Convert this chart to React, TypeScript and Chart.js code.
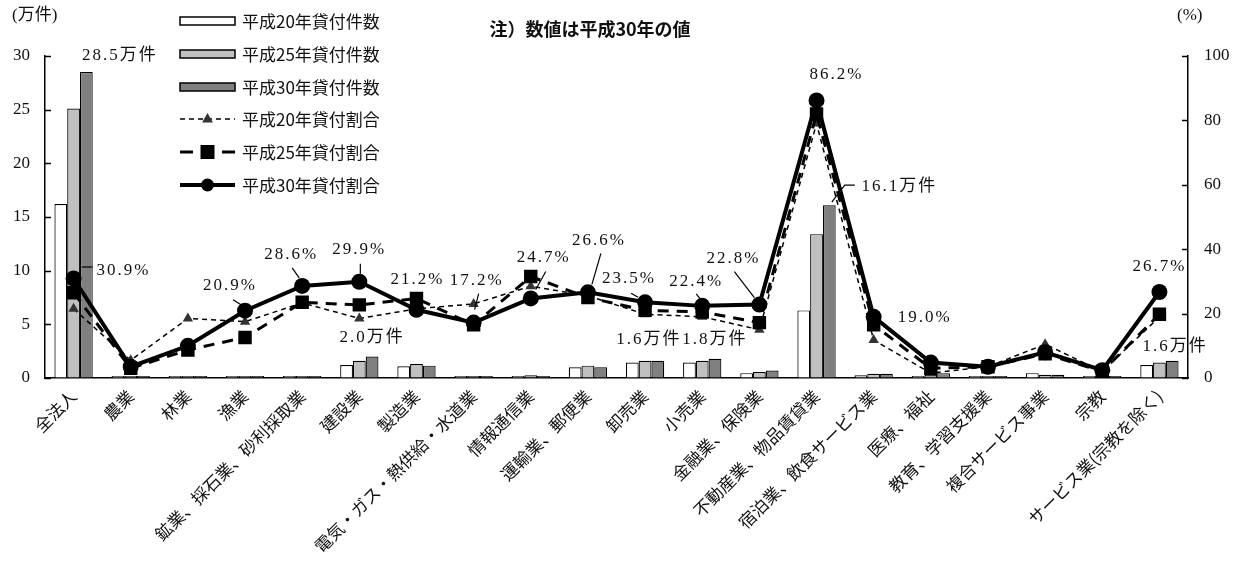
import React, { useEffect, useRef } from 'react';
import { Chart, registerables } from 'chart.js';

Chart.register(...registerables);

const categories = [
  '全法人', '農業', '林業', '漁業', '鉱業、採石業、砂利採取業', '建設業', '製造業',
  '電気・ガス・熱供給・水道業', '情報通信業', '運輸業、郵便業', '卸売業', '小売業',
  '金融業、保険業', '不動産業、物品賃貸業', '宿泊業、飲食サービス業', '医療、福祉',
  '教育、学習支援業', '複合サービス事業', '宗教', 'サービス業(宗教を除く)',
];

// 貸付件数 (万件)
const loansH20 = [16.2, 0.1, 0.1, 0.1, 0.1, 1.2, 1.1, 0.05, 0.05, 1.0, 1.45, 1.45, 0.45, 6.3, 0.25, 0.05, 0.05, 0.45, 0.05, 1.2];
const loansH25 = [25.1, 0.1, 0.1, 0.1, 0.1, 1.6, 1.3, 0.05, 0.25, 1.15, 1.6, 1.6, 0.55, 13.4, 0.4, 0.3, 0.05, 0.3, 0.05, 1.45];
const loansH30 = [28.5, 0.1, 0.1, 0.1, 0.1, 2.0, 1.15, 0.05, 0.1, 1.0, 1.6, 1.8, 0.7, 16.1, 0.4, 0.45, 0.05, 0.3, 0.05, 1.6];

// 貸付割合 (%)
const rateH20 = [21.5, 5.5, 18.5, 17.5, 23.3, 18.5, 21.5, 23.0, 28.5, 25.5, 19.8, 19.0, 15.0, 79.0, 11.8, 1.5, 3.5, 10.5, 2.0, 19.0];
const rateH25 = [26.5, 3.0, 8.7, 12.6, 23.5, 22.7, 24.7, 16.5, 31.5, 25.0, 21.0, 20.5, 17.2, 82.0, 16.5, 3.0, 3.5, 7.5, 2.0, 19.8];
const rateH30 = [30.9, 3.5, 10.0, 20.9, 28.6, 29.9, 21.2, 17.2, 24.7, 26.6, 23.5, 22.4, 22.8, 86.2, 19.0, 4.8, 3.5, 8.0, 2.4, 26.7];

const leftMax = 30;
const leftStep = 5;
const rightMax = 100;
const rightStep = 20;

const legendLabels = [
  '平成20年貸付件数', '平成25年貸付件数', '平成30年貸付件数',
  '平成20年貸付割合', '平成25年貸付割合', '平成30年貸付割合',
];
const titleText = '注）数値は平成30年の値';
const leftUnit = '(万件)';
const rightUnit = '(%)';
const countUnit = '万件';

// indices of H30 values that carry a label
const rateLabelIdx = [0, 3, 4, 5, 6, 7, 8, 9, 10, 11, 12, 13, 14, 19];
const loanLabelIdx = [0, 5, 10, 11, 13, 19];

const SERIF = "'Liberation Serif', 'Noto Sans CJK JP', serif";
const CJK = "'Noto Sans CJK JP', sans-serif";

// label placement relative to the mark: [dx, dy, leader polyline relative to mark]
const rateLabelPos: Record<number, [number, number, number[][]]> = {
  0: [50, -8, [[8, -11.5], [19, -11.5]]],
  3: [-15, -25, [[-12, -11], [-4, -6]]],
  4: [-11, -31, [[-10, -18], [-3, -8]]],
  5: [0, -32, [[1, -18], [1, -8]]],
  6: [1, -30, []],
  7: [3, -42, [[5, -29], [1, -13]]],
  8: [13, -41, [[15, -27], [5, -9]]],
  9: [11, -52, [[13, -39], [4, -8]]],
  10: [-16, -24, [[-14, -9], [-7, -5]]],
  11: [-6, -24, [[-6, -12], [-2, -7]]],
  12: [-26, -46, [[-25, -33], [-5, -7]]],
  13: [20, -26, []],
  14: [51, 1, []],
  19: [0, -25, []],
};
const loanLabelPos: Record<number, [number, number, number[][]]> = {
  0: [33.5, -17, []],
  5: [0, -19, []],
  10: [-9, -21, []],
  11: [0, -19, []],
  13: [70, -19, [[2.5, -3], [15.5, -20], [25.5, -20]]],
  19: [3, -14, []],
};

function drawTriangle(ctx: CanvasRenderingContext2D, x: number, y: number, r: number) {
  ctx.beginPath();
  ctx.moveTo(x, y - r);
  ctx.lineTo(x + r * 0.9, y + r * 0.6);
  ctx.lineTo(x - r * 0.9, y + r * 0.6);
  ctx.closePath();
  ctx.fill();
}

const overlayPlugin = {
  id: 'overlay',
  afterDraw(chart: any) {
    const ctx: CanvasRenderingContext2D = chart.ctx;
    const { left, right } = chart.chartArea;
    const ys = chart.scales.y;
    const ys1 = chart.scales.y1;
    ctx.save();

    // inward ticks
    ctx.strokeStyle = '#000';
    ctx.lineWidth = 1.5;
    ctx.setLineDash([]);
    for (let v = 0; v <= leftMax; v += leftStep) {
      const py = Math.round(ys.getPixelForValue(v)) + 0.5;
      ctx.beginPath(); ctx.moveTo(left, py); ctx.lineTo(left + 6, py); ctx.stroke();
    }
    for (let v = 0; v <= rightMax; v += rightStep) {
      const py = Math.round(ys1.getPixelForValue(v)) + 0.5;
      ctx.beginPath(); ctx.moveTo(right - 6, py); ctx.lineTo(right, py); ctx.stroke();
    }

    // units and title
    ctx.fillStyle = '#111';
    ctx.font = `17px ${SERIF}`;
    ctx.textBaseline = 'middle';
    ctx.textAlign = 'left';
    ctx.fillText(leftUnit, 12, 16);
    ctx.fillText(rightUnit, 1177, 16);
    ctx.font = `bold 18px ${CJK}`;
    ctx.textAlign = 'center';
    ctx.fillText(titleText, 590, 29);

    // legend
    const rows = [21, 54, 87, 119, 152, 185];
    const lx0 = 180, lx1 = 235, lxc = 207.5;
    const barFills = ['#ffffff', '#c0c0c0', '#808080'];
    for (let i = 0; i < 3; i++) {
      const y = rows[i];
      ctx.fillStyle = barFills[i];
      ctx.fillRect(lx0, y - 4, lx1 - lx0, 8);
      ctx.strokeStyle = '#000';
      ctx.lineWidth = 1.5;
      ctx.strokeRect(lx0, y - 4, lx1 - lx0, 8);
    }
    // H20
    ctx.strokeStyle = '#000';
    ctx.lineWidth = 1.5;
    ctx.setLineDash([5, 4]);
    ctx.beginPath(); ctx.moveTo(lx0, rows[3]); ctx.lineTo(lx1, rows[3]); ctx.stroke();
    ctx.setLineDash([]);
    ctx.fillStyle = '#333';
    drawTriangle(ctx, lxc, rows[3], 6);
    // H25
    ctx.lineWidth = 3;
    ctx.beginPath(); ctx.moveTo(lx0, rows[4]); ctx.lineTo(lx0 + 13, rows[4]); ctx.stroke();
    ctx.beginPath(); ctx.moveTo(lx1 - 13, rows[4]); ctx.lineTo(lx1, rows[4]); ctx.stroke();
    ctx.fillStyle = '#000';
    ctx.fillRect(lxc - 7, rows[4] - 7, 14, 14);
    // H30
    ctx.lineWidth = 4;
    ctx.beginPath(); ctx.moveTo(lx0, rows[5]); ctx.lineTo(lx1, rows[5]); ctx.stroke();
    ctx.beginPath(); ctx.arc(lxc, rows[5], 6.5, 0, Math.PI * 2); ctx.fill();

    ctx.fillStyle = '#111';
    ctx.font = `17px ${CJK}`;
    ctx.textAlign = 'left';
    legendLabels.forEach((t, i) => ctx.fillText(t, 242, rows[i] + 1));

    // data labels
    ctx.font = `17px ${SERIF}`;
    (ctx as any).letterSpacing = '2px';
    ctx.textAlign = 'center';
    ctx.lineWidth = 1.2;
    ctx.strokeStyle = '#000';
    const drawLabel = (px: number, py: number, text: string, pos: [number, number, number[][]]) => {
      const [dx, dy, leader] = pos;
      if (leader.length > 1) {
        ctx.beginPath();
        leader.forEach(([a, b], k) => (k === 0 ? ctx.moveTo(px + a, py + b) : ctx.lineTo(px + a, py + b)));
        ctx.stroke();
      }
      ctx.fillStyle = '#111';
      ctx.fillText(text, px + dx, py + dy);
    };
    const rateMeta = chart.getDatasetMeta(5);
    rateLabelIdx.forEach((i) => {
      const el = rateMeta.data[i];
      drawLabel(el.x, el.y, `${rateH30[i].toFixed(1)}%`, rateLabelPos[i]);
    });
    const loanMeta = chart.getDatasetMeta(2);
    loanLabelIdx.forEach((i) => {
      const el = loanMeta.data[i];
      drawLabel(el.x, el.y, `${loansH30[i].toFixed(1)}${countUnit}`, loanLabelPos[i]);
    });
    (ctx as any).letterSpacing = '0px';
    ctx.restore();
  },
};

export default function App() {
  const ref = useRef<HTMLCanvasElement | null>(null);

  useEffect(() => {
    document.body.style.margin = '0';
    const canvas = ref.current;
    if (!canvas) return;
    const barCommon = {
      type: 'bar' as const,
      yAxisID: 'y',
      borderColor: '#000',
      borderWidth: 1.2,
      categoryPercentage: 0.67,
      barPercentage: 1.0,
      minBarLength: 2,
    };
    const chart = new Chart(canvas, {
      type: 'bar',
      data: {
        labels: categories,
        datasets: [
          { ...barCommon, label: legendLabels[0], data: loansH20, backgroundColor: '#ffffff', order: 4 },
          { ...barCommon, label: legendLabels[1], data: loansH25, backgroundColor: '#c0c0c0', order: 5 },
          { ...barCommon, label: legendLabels[2], data: loansH30, backgroundColor: '#808080', order: 6 },
          {
            type: 'line', label: legendLabels[3], data: rateH20, yAxisID: 'y1', order: 3,
            borderColor: '#000', borderWidth: 1.5, borderDash: [5, 4],
            pointStyle: 'triangle', pointRadius: 6, pointBackgroundColor: '#333', pointBorderColor: '#333',
            pointBorderWidth: 0, tension: 0, fill: false,
          },
          {
            type: 'line', label: legendLabels[4], data: rateH25, yAxisID: 'y1', order: 2,
            borderColor: '#000', borderWidth: 3, borderDash: [11, 8],
            pointStyle: 'rect', pointRadius: 9.5, pointBackgroundColor: '#000', pointBorderColor: '#000',
            pointBorderWidth: 0, tension: 0, fill: false,
          },
          {
            type: 'line', label: legendLabels[5], data: rateH30, yAxisID: 'y1', order: 1,
            borderColor: '#000', borderWidth: 4,
            pointStyle: 'circle', pointRadius: 8, pointBackgroundColor: '#000', pointBorderColor: '#000',
            pointBorderWidth: 0, tension: 0, fill: false,
          },
        ] as any,
      },
      options: {
        responsive: false,
        animation: false,
        events: [],
        layout: { padding: { top: 56, left: 0, right: 0, bottom: 0 } },
        plugins: { legend: { display: false }, tooltip: { enabled: false }, title: { display: false } },
        scales: {
          x: {
            grid: { display: true, drawOnChartArea: false, drawTicks: false },
            border: { display: true, color: '#000', width: 1.5 },
            ticks: {
              autoSkip: false, maxRotation: 45, minRotation: 45, padding: 8,
              color: '#111', font: { family: CJK, size: 17 },
            },
            afterFit: (s: any) => { s.height = 199; },
          },
          y: {
            position: 'left', min: 0, max: leftMax,
            grid: { display: true, drawOnChartArea: false, drawTicks: false },
            border: { display: true, color: '#000', width: 1.5 },
            ticks: { stepSize: leftStep, padding: 15, color: '#111', font: { family: SERIF, size: 17 } },
            afterFit: (s: any) => { s.width = 45; },
          },
          y1: {
            position: 'right', min: 0, max: rightMax,
            grid: { display: true, drawOnChartArea: false, drawTicks: false },
            border: { display: true, color: '#000', width: 1.5 },
            ticks: { stepSize: rightStep, padding: 16, color: '#111', font: { family: SERIF, size: 17 } },
            afterFit: (s: any) => { s.width = 55; },
          },
        },
      } as any,
      plugins: [overlayPlugin],
    });
    return () => chart.destroy();
  }, []);

  return (
    <div style={{ width: 1243, height: 577, background: '#fff' }}>
      <canvas ref={ref} width={1243} height={577} style={{ display: 'block' }} />
    </div>
  );
}
